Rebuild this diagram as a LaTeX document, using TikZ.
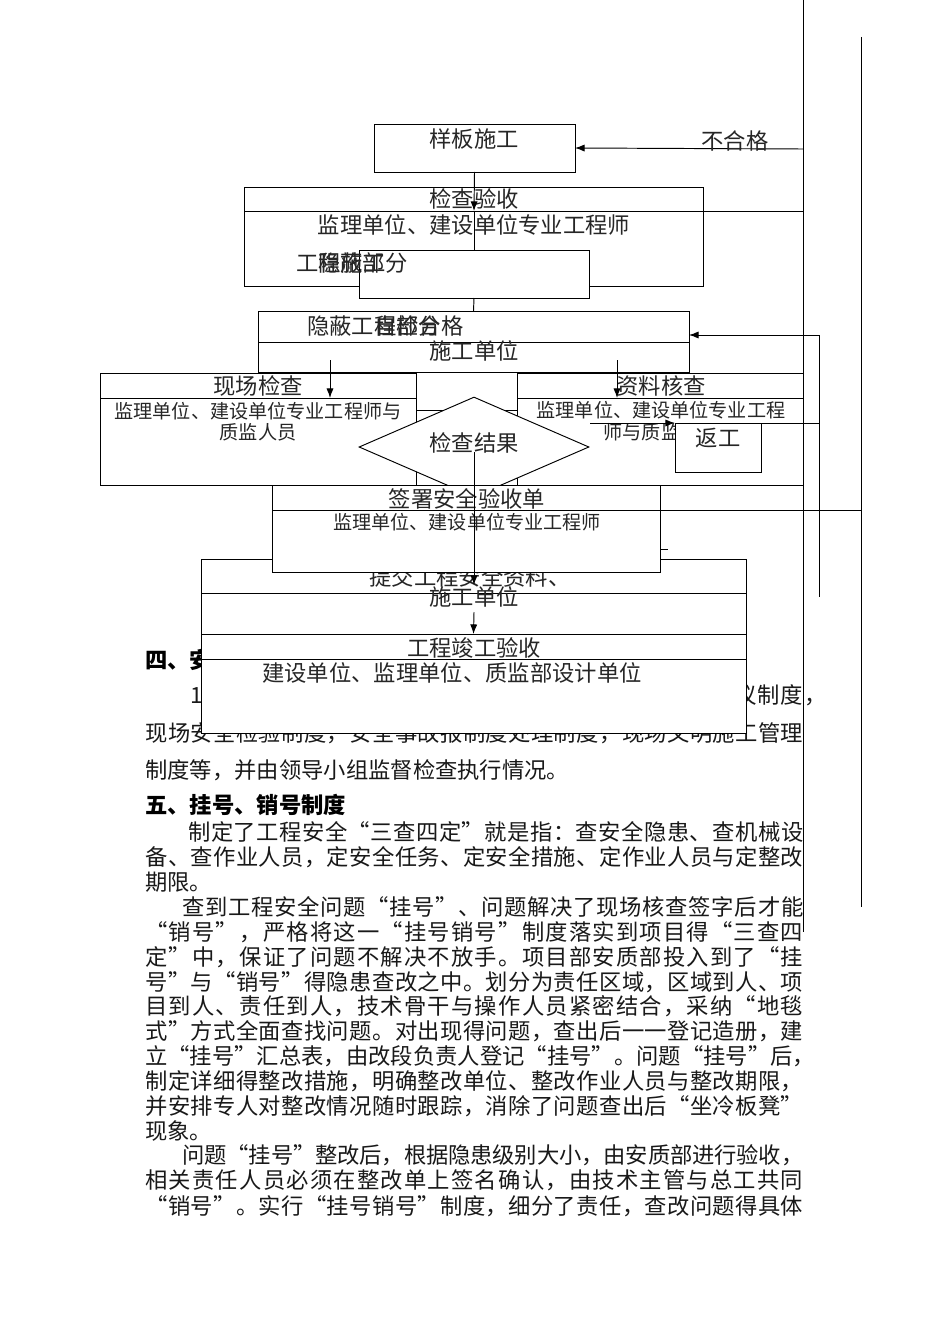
\documentclass[tikz,border=0pt]{standalone}
\usepackage{fontspec}
\setmainfont{Noto Sans CJK SC}
\newfontfamily\cjk{Noto Sans CJK SC}
\usetikzlibrary{shapes.geometric,arrows.meta,fit}
\def\spreadloop#1{\ifx#1\relax\else#1\hskip 0pt plus 1fil minus 1pt\relax\expandafter\spreadloop\fi}
\newcommand\jline[2]{\hbox to #1{\spreadloop#2\relax\unskip}}
\tikzset{
  box/.style={draw, fill=white, inner sep=0pt, outer sep=0pt, line width=0.6pt},
  ln/.style={line width=0.6pt},
  arr/.style={line width=0.6pt, -{Latex[length=6pt,width=4.5pt]}},
  big/.style={font=\cjk\fontsize{14pt}{16pt}\selectfont, inner sep=0pt, text=black!85},
  small/.style={font=\cjk\fontsize{12pt}{14pt}\selectfont, inner sep=0pt, text=black!85},
  body/.style={font=\cjk\fontsize{14pt}{16pt}\selectfont, inner sep=0pt, anchor=west, text=black!90},
  head/.style={font=\cjk\bfseries\fontsize{14pt}{16pt}\selectfont, inner sep=0pt, anchor=west},
}
\begin{document}
\begin{tikzpicture}[x=0.6275pt, y=-0.6275pt]
\fill[white] (0,0) rectangle (950,1344);
\useasboundingbox (0,0) rectangle (950,1344);

% ---------- body text ----------
\node[head] (h4) at (145,660) {四、安全生产管理制度};
\node[body] (p4a) at (190,695) {\jline{399.1pt}{1、项目部建立健全了安全生产责任制度、安全例会会议制度，}};
\node[body] (p4b) at (145,733) {\jline{412.9pt}{现场安全检验制度，安全事故报制度处理制度，现场文明施工管理}};
\node[body] (p4c) at (145,770) {制度等，并由领导小组监督检查执行情况。};

\node[head] (h5) at (145,805) {五、挂号、销号制度};
\node[body] (l1) at (188,832) {\jline{386pt}{制定了工程安全“三查四定”就是指：查安全隐患、查机械设}};
\node[body] (l2) at (145,857) {\jline{412.9pt}{备、查作业人员，定安全任务、定安全措施、定作业人员与定整改}};
\node[body] (l3) at (145,882) {期限。};
\node[body] (l4) at (182,907) {\jline{389.7pt}{查到工程安全问题“挂号”、问题解决了现场核查签字后才能}};
\node[body] (l5) at (145,932) {\jline{412.9pt}{“销号”，严格将这一“挂号销号”制度落实到项目得“三查四}};
\node[body] (l6) at (145,957) {\jline{412.9pt}{定”中，保证了问题不解决不放手。项目部安质部投入到了“挂}};
\node[body] (l7) at (145,982) {\jline{412.9pt}{号”与“销号”得隐患查改之中。划分为责任区域，区域到人、项}};
\node[body] (l8) at (145,1006) {\jline{412.9pt}{目到人、责任到人，技术骨干与操作人员紧密结合，采纳“地毯}};
\node[body] (l9) at (145,1031) {\jline{412.9pt}{式”方式全面查找问题。对出现得问题，查出后一一登记造册，建}};
\node[body] (l10) at (145,1056) {\jline{420.4pt}{立“挂号”汇总表，由改段负责人登记“挂号”。问题“挂号”后，}};
\node[body] (l11) at (145,1081) {\jline{412.9pt}{制定详细得整改措施，明确整改单位、整改作业人员与整改期限，}};
\node[body] (l12) at (145,1106) {\jline{412.9pt}{并安排专人对整改情况随时跟踪，消除了问题查出后“坐冷板凳”}};
\node[body] (l13) at (145,1131) {现象。};
\node[body] (l14) at (182,1155) {\jline{389.7pt}{问题“挂号”整改后，根据隐患级别大小，由安质部进行验收，}};
\node[body] (l15) at (145,1180) {\jline{412.9pt}{相关责任人员必须在整改单上签名确认，由技术主管与总工共同}};
\node[body] (l16) at (145,1206) {\jline{412.9pt}{“销号”。实行“挂号销号”制度，细分了责任，查改问题得具体}};

% ---------- long vertical lines ----------
\coordinate (v1t) at (803,0);
\coordinate (v1b) at (803,932);
\coordinate (v2t) at (861,37);
\coordinate (v2b) at (861,907);
\draw[ln] (v1t) -- (v1b);
\draw[ln] (v2t) -- (v2b);

% ---------- 样板施工 ----------
\node[box, fit={(374,124)(575,172)}] (yb) {};
\node[big] (ybt) at (474,139) {样板施工};

% ---------- 检查验收 ----------
\node[box, fit={(244,187)(703,286)}] (jc) {};
\draw[ln] (244,211) -- (703,211);
\node[big] (jct) at (474,199) {检查验收};
\node[big] (jcs) at (474,225) {监理单位、建设单位专业工程师};
\coordinate (jcm) at (474,211);
\coordinate (jce) at (703,211);
\coordinate (r211) at (803,211);
\draw[ln] (jce) -- (r211);

% ---------- 工程施工部分 ----------
\node[box, fit={(359,250)(589,298)}] (gs) {};
\node[big, anchor=west] (gsa) at (296,263) {工程施工};
\node[big, anchor=west] (gsb) at (318,263) {隐蔽部分};
\draw[arr] (yb.south) -- (jcm);
\draw[ln] (jcm) -- (gs.north);

% ---------- 隐蔽工程 ----------
\node[box, fit={(258,311)(689,372)}] (yc) {};
\draw[ln] (258,342) -- (689,342);
\node[big, anchor=west] (yca) at (307,326) {隐蔽工程部分};
\node[big, anchor=west] (ycb) at (374,326) {自检合格};
\node[big] (ycs) at (474,351) {施工单位};
\draw[ln] (gs.south) -- (yc.north);

% ---------- 现场检查 / 资料核查 ----------
\node[box, fit={(100,373)(416,485)}] (xc) {};
\draw[ln] (100,398) -- (416,398);
\node[big] (xct) at (258,386) {现场检查};
\node[small] (xcs1) at (258,411) {监理单位、建设单位专业工程师与};
\node[small] (xcs2) at (258,432) {质监人员};

\node[box, fit={(517,373)(803,485)}] (zl) {};
\draw[ln] (517,398) -- (803,398);
\node[big] (zlt) at (661,386) {资料核查};
\node[small] (zls1) at (661,410) {监理单位、建设单位专业工程};
\node[small] (zls2) at (661,432) {师与质监人员};

\coordinate (a1s) at (330,360);
\coordinate (a1e) at (330,398);
\coordinate (a2s) at (617,360);
\coordinate (a2e) at (617,398);
\draw[arr] (a1s) -- (a1e);
\draw[arr] (a2s) -- (a2e);

% line behind diamond
\coordinate (m410a) at (416,410);
\coordinate (m410b) at (517,410);
\draw[ln] (m410a) -- (m410b);

% ---------- 检查结果 diamond ----------
\node[draw, fill=white, diamond, line width=0.6pt, inner sep=0pt,
      minimum width=144.3pt, minimum height=62.75pt] (dm) at (474,447) {};
\node[big] (dmt) at (474,443) {检查结果};

% ---------- 返工 ----------
\node[box, fit={(675,423)(761,472)}] (fg) {};
\node[big] (fgt) at (718,438) {返工};
\coordinate (f423) at (590,423);
\coordinate (r423) at (819,423);
\draw[arr] (f423) -- (fg.north west);
\draw[ln] (fg.north east) -- (r423);

% right return line
\coordinate (r335) at (819,335);
\coordinate (r597) at (819,597);
\coordinate (yce) at (689,335);
\draw[ln] (r335) -- (r597);
\draw[arr] (r335) -- (yce);

% ---------- 提交工程安全资料 ----------
\node[box, fit={(201,559)(746,634)}] (tj) {};
\draw[ln] (201,593) -- (746,593);
\node[big] (tjt) at (470,577) {提交工程安全资料、};
\node[big] (tjs) at (474,597) {施工单位};

% ---------- 签署安全验收单 ----------
\node[box, fit={(272,485)(660,572)}] (qs) {};
\draw[ln] (272,510) -- (660,510);
\node[big] (qst) at (467,499) {签署安全验收单};
\node[small] (qss) at (467,522) {监理单位、建设单位专业工程师};
\coordinate (q510) at (660,510);
\coordinate (r510) at (861,510);
\draw[ln] (q510) -- (r510);
\coordinate (tk1) at (660,549);
\coordinate (tk2) at (668,549);
\draw[ln] (tk1) -- (tk2);

\coordinate (d1) at (474,452);
\coordinate (d2) at (474,585);
\draw[arr] (d1) -- (d2);

% ---------- 工程竣工验收 ----------
\node[box, fit={(201,634)(746,733)}] (jg) {};
\draw[ln] (201,659) -- (746,659);
\node[big] (jgt) at (474,648) {工程竣工验收};
\node[big] (jgs) at (452,673) {建设单位、监理单位、质监部设计单位};
\coordinate (t612) at (474,612);
\draw[arr] (t612) -- (jg.north);

% ---------- 不合格 feedback ----------
\coordinate (r149) at (803,149);
\draw[arr] (r149) -- (yb.east);
\node[big] (bhg) at (735,141) {不合格};

\end{tikzpicture}
\end{document}
